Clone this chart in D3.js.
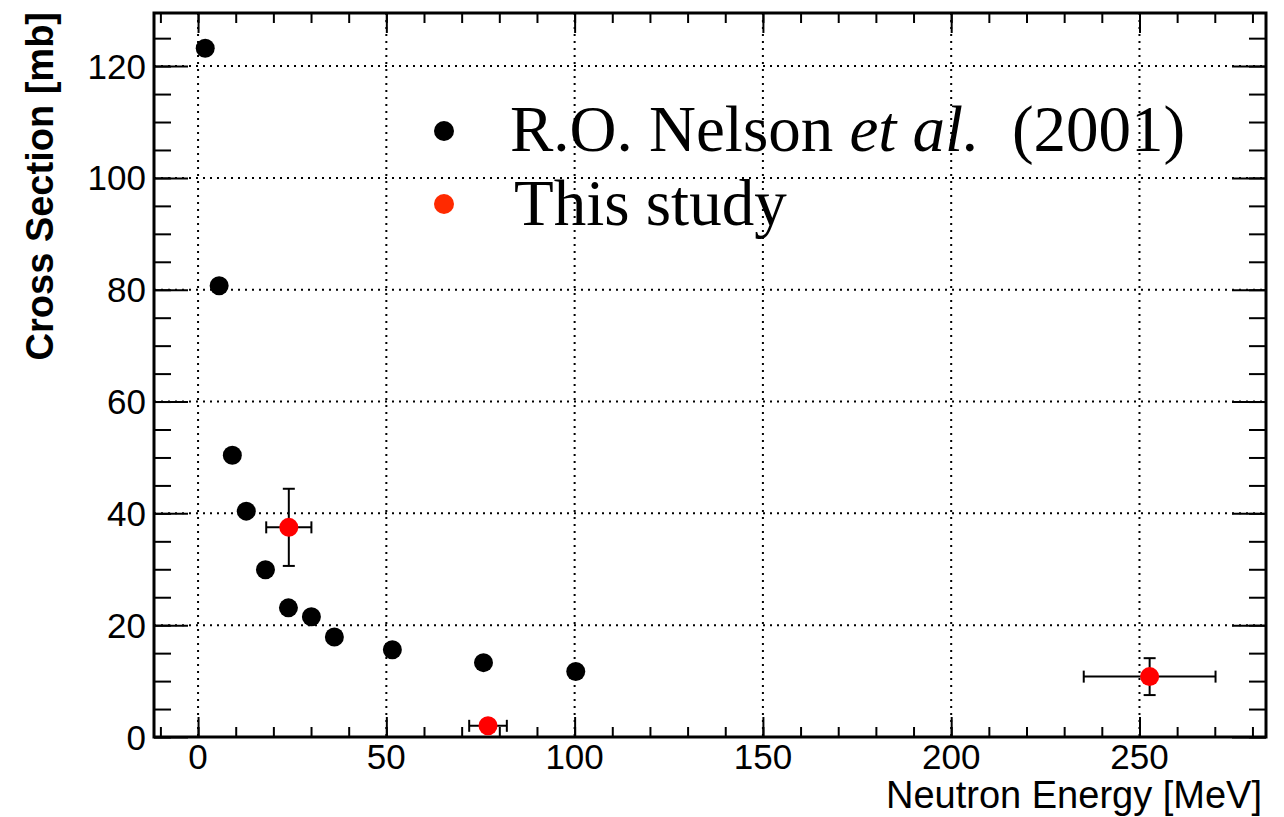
<!DOCTYPE html>
<html>
<head>
<meta charset="utf-8">
<script src="https://cdn.jsdelivr.net/npm/d3@7"></script>
<style>
  body { margin: 0; background: #fff; }
</style>
</head>
<body>
<svg id="draw"></svg>
<script>
// Nelson et al. (2001) points
var nelsonE  = [1.9, 5.6, 9.1, 12.8, 17.9, 24.0, 30.1, 36.2, 51.6, 75.8, 100.3];
var nelsonXS = [123.2, 80.7, 50.4, 40.4, 29.9, 23.1, 21.5, 17.9, 15.6, 13.3, 11.7];

// this study, with errors
var studyE     = [24.1, 77.0, 252.7];
var studyXS    = [37.5, 2.0, 10.8];
var studyEerr  = [6.0, 5.0, 17.5];
var studyXSerr = [6.9, 0.2, 3.3];

var xTicks = [0, 50, 100, 150, 200, 250];
var yTicks = [0, 20, 40, 60, 80, 100, 120];
var xMinor = d3.range(-10, 290, 10);
var yMinor = d3.range(0, 130, 5);

var W = 1284, H = 817;
var frame = {left: 154, right: 1266, top: 13, bottom: 737};

var svg = d3.select("#draw")
  .attr("width", W)
  .attr("height", H);

var xScale = d3.scaleLinear()
  .domain([-11.7, 283.6])
  .range([frame.left, frame.right]);

var yScale = d3.scaleLinear()
  .domain([0, 129.5])
  .range([frame.bottom, frame.top]);

var font = '"Liberation Sans", Arial, Helvetica, sans-serif';

// grid (dotted)
var grid = svg.append("g").attr("stroke", "#000").attr("stroke-width", 2)
  .attr("stroke-dasharray", "2,5");
grid.selectAll(".gx").data(xTicks).enter().append("line")
  .attr("x1", d => xScale(d)).attr("x2", d => xScale(d))
  .attr("y1", frame.top).attr("y2", frame.bottom);
grid.selectAll(".gy").data(yTicks.filter(d => d > 0)).enter().append("line")
  .attr("x1", frame.left).attr("x2", frame.right)
  .attr("y1", d => yScale(d)).attr("y2", d => yScale(d));

// ticks inside the frame on all four sides, ROOT style
function ticks(axis, pos, vals, size) {
  svg.append("g")
    .attr("transform", pos)
    .call(axis.tickValues(vals).tickSize(size).tickFormat(""))
    .select(".domain").remove();
}
ticks(d3.axisTop(xScale), "translate(0," + frame.bottom + ")", xMinor, 10);
ticks(d3.axisTop(xScale), "translate(0," + frame.bottom + ")", xTicks, 20);
ticks(d3.axisBottom(xScale), "translate(0," + frame.top + ")", xMinor, 10);
ticks(d3.axisBottom(xScale), "translate(0," + frame.top + ")", xTicks, 20);
ticks(d3.axisRight(yScale), "translate(" + frame.left + ",0)", yMinor, 17);
ticks(d3.axisRight(yScale), "translate(" + frame.left + ",0)", yTicks, 34);
ticks(d3.axisLeft(yScale), "translate(" + frame.right + ",0)", yMinor, 17);
ticks(d3.axisLeft(yScale), "translate(" + frame.right + ",0)", yTicks, 34);

svg.selectAll(".tick line").attr("stroke", "#000").attr("stroke-width", 2);

// tick labels
svg.append("g").selectAll("text").data(xTicks).enter().append("text")
  .attr("x", d => xScale(d))
  .attr("y", 769)
  .attr("text-anchor", "middle")
  .attr("font-family", font)
  .attr("font-size", 35)
  .text(d => d);

svg.append("g").selectAll("text").data(yTicks).enter().append("text")
  .attr("x", 146)
  .attr("y", d => yScale(d) + 12.5)
  .attr("text-anchor", "end")
  .attr("font-family", font)
  .attr("font-size", 35)
  .text(d => d);

// frame
svg.append("rect")
  .attr("x", frame.left).attr("y", frame.top)
  .attr("width", frame.right - frame.left)
  .attr("height", frame.bottom - frame.top)
  .attr("fill", "none").attr("stroke", "#000").attr("stroke-width", 3);

// axis titles
svg.append("text")
  .attr("x", 1262).attr("y", 808)
  .attr("text-anchor", "end")
  .attr("font-family", font)
  .attr("font-size", 38)
  .text("Neutron Energy [MeV]");

svg.append("text")
  .attr("transform", "translate(53,12) rotate(-90)")
  .attr("text-anchor", "end")
  .attr("font-family", font)
  .attr("font-weight", "bold")
  .attr("font-size", 38)
  .text("Cross Section [mb]");

// Nelson points
svg.selectAll(".dot")
  .data(nelsonE)
  .enter().append("circle")
  .attr("class", "dot")
  .attr("cx", d => xScale(d))
  .attr("cy", (d, i) => yScale(nelsonXS[i]))
  .attr("r", 9.5)
  .attr("fill", "#000");

// error bars for this study
var err = svg.append("g").attr("stroke", "#000").attr("stroke-width", 2);
studyE.forEach(function(e, i) {
  var cx = xScale(e), cy = yScale(studyXS[i]);
  var x0 = xScale(e - studyEerr[i]), x1 = xScale(e + studyEerr[i]);
  var y0 = yScale(studyXS[i] - studyXSerr[i]), y1 = yScale(studyXS[i] + studyXSerr[i]);
  err.append("line").attr("x1", x0).attr("x2", x1).attr("y1", cy).attr("y2", cy);
  err.append("line").attr("x1", x0).attr("x2", x0).attr("y1", cy - 6).attr("y2", cy + 6);
  err.append("line").attr("x1", x1).attr("x2", x1).attr("y1", cy - 6).attr("y2", cy + 6);
  if (y0 - y1 > 4) {
    err.append("line").attr("x1", cx).attr("x2", cx).attr("y1", y0).attr("y2", y1);
    err.append("line").attr("x1", cx - 6).attr("x2", cx + 6).attr("y1", y0).attr("y2", y0);
    err.append("line").attr("x1", cx - 6).attr("x2", cx + 6).attr("y1", y1).attr("y2", y1);
  }
});

svg.selectAll(".rdot")
  .data(studyE)
  .enter().append("circle")
  .attr("class", "rdot")
  .attr("cx", d => xScale(d))
  .attr("cy", (d, i) => yScale(studyXS[i]))
  .attr("r", 9.5)
  .attr("fill", "#ff0000");

// legend
var leg = svg.append("g").attr("font-family", '"Liberation Serif", "Times New Roman", serif')
  .attr("font-size", 65);
leg.append("circle").attr("cx", 444).attr("cy", 131).attr("r", 10).attr("fill", "#000");
leg.append("circle").attr("cx", 444).attr("cy", 204).attr("r", 10).attr("fill", "#ff2a00");
var t1 = leg.append("text").attr("x", 510).attr("y", 151);
t1.append("tspan").text("R.O. Nelson ");
t1.append("tspan").attr("font-style", "italic").text("et al.");
t1.append("tspan").attr("xml:space", "preserve").text("  (2001)");
leg.append("text").attr("x", 514).attr("y", 225).text("This study");
</script>
</body>
</html>
